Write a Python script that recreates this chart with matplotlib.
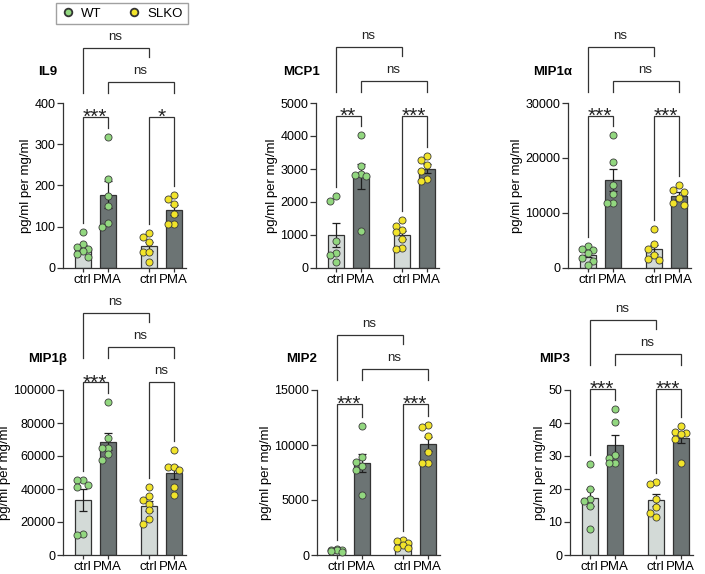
import numpy as np
import matplotlib.pyplot as plt
from matplotlib.lines import Line2D
from matplotlib.transforms import blended_transform_factory

plt.rcParams['font.family'] = ['Liberation Sans', 'DejaVu Sans']
plt.rcParams['font.size'] = 9.5

# panel setup
titles = ['IL9', 'MCP1', 'MIP1α', 'MIP1β', 'MIP2', 'MIP3']
y_max = [400, 5000, 30000, 100000, 15000, 50]
y_step = [100, 1000, 10000, 20000, 5000, 10]
tick_labels = ['ctrl', 'PMA', 'ctrl', 'PMA']
genotypes = ['WT', 'SLKO']

# values per panel: WT ctrl, WT PMA, SLKO ctrl, SLKO PMA (pg/ml per mg/ml)
il9 = [[88, 58, 50, 45, 40, 35, 26],
       [318, 215, 174, 150, 109, 99],
       [86, 75, 62, 39, 39, 15],
       [178, 168, 156, 131, 107, 107]]
mcp1 = [[2170, 2040, 820, 440, 390, 180],
        [4020, 3080, 2850, 2820, 2800, 1130],
        [1450, 1280, 1150, 1080, 880, 600, 570],
        [3400, 3270, 3120, 2950, 2700, 2630]]
mip1a = [[4000, 3400, 3200, 2700, 1800, 1300, 600],
         [24100, 19300, 15100, 13500, 11900, 11800],
         [7000, 4400, 3400, 2400, 1700, 1500],
         [15100, 14100, 13800, 12700, 11800, 11500]]
mip1b = [[45700, 45300, 42200, 41200, 13000, 12000],
         [92800, 70800, 65100, 64700, 61200, 57500],
         [41500, 36000, 33500, 31000, 27000, 22000, 18500],
         [63600, 53400, 53400, 51400, 41200, 36500]]
mip2 = [[550, 500, 480, 420, 350, 300],
        [11700, 8900, 8500, 8100, 7700, 5500],
        [1400, 1300, 1100, 900, 650, 600],
        [11800, 11600, 10800, 9400, 8400, 8400]]
mip3 = [[27.5, 20, 17, 16.5, 15, 8],
        [44.3, 40.2, 30.3, 29.5, 27.8, 27.8],
        [22.2, 21.5, 17, 14.5, 12.7, 11.6],
        [39, 37.2, 37, 36.8, 35.2, 28]]
values = [il9, mcp1, mip1a, mip1b, mip2, mip3]

# significance: WT ctrl vs PMA, SLKO ctrl vs PMA, ctrl WT vs SLKO, PMA WT vs SLKO
sig_wt = ['***', '**', '***', '***', '***', '***']
sig_slko = ['*', '***', '***', 'ns', '***', '***']
sig_ctrl = ['ns', 'ns', 'ns', 'ns', 'ns', 'ns']
sig_pma = ['ns', 'ns', 'ns', 'ns', 'ns', 'ns']

# style
GREEN = '#92d77f'
YELLOW = '#f2e42a'
CTRL_FILL = '#d3dad7'
PMA_FILL = '#6c7474'
LINE = '#333333'
DOT_EDGE = '#3c3c3c'

W, H = 705, 574
AX_W, AX_H = 123, 165
PX = 1.0 / AX_H
lefts = [63, 316, 568, 63, 317, 570]
bottoms = [268, 268, 268, 555, 555, 555]
xpos = [0, 1, 2.65, 3.65]
XLIM = (-0.78, 4.14)

fig = plt.figure(figsize=(W / 100, H / 100), dpi=100)


def swarm(vals, ymax):
    # small beeswarm in pixel space, kept inside the bar
    order = np.argsort(vals)[::-1]
    placed = []
    offs = np.zeros(len(vals))
    for i in order:
        yp = vals[i] / ymax * AX_H
        best, best_d = 0, -1
        for cand in [0, -5.5, 5.5]:
            d = min([np.hypot(cand - px, yp - py) for px, py in placed] or [99])
            if d >= 6.2:
                best = cand
                break
            if d > best_d:
                best, best_d = cand, d
        placed.append((best, yp))
        offs[i] = best
    return offs / (AX_W / (XLIM[1] - XLIM[0]))


def bracket(ax, x1, x2, y, y1, y2, label):
    tr = blended_transform_factory(ax.transData, ax.transAxes)
    ax.plot([x1, x1, x2, x2], [y1, y, y, y2], transform=tr, color=LINE,
            lw=0.9, clip_on=False, solid_joinstyle='miter')
    if label == 'ns':
        ax.annotate(label, xy=((x1 + x2) / 2, y), xycoords=tr, xytext=(0, 5.5),
                    textcoords='offset points', ha='center', va='baseline',
                    fontsize=9.5, color='#222222')
    else:
        ax.annotate(label, xy=((x1 + x2) / 2, y), xycoords=tr, xytext=(0, -4.5),
                    textcoords='offset points', ha='center', va='baseline',
                    fontsize=15, color='#222222')


for k in range(6):
    ax = fig.add_axes([lefts[k] / W, 1 - bottoms[k] / H, AX_W / W, AX_H / H])
    groups = values[k]
    ym = y_max[k]
    means = [np.mean(g) for g in groups]
    sems = [np.std(g, ddof=1) / np.sqrt(len(g)) for g in groups]
    fills = [CTRL_FILL, PMA_FILL, CTRL_FILL, PMA_FILL]
    dots = [GREEN, GREEN, YELLOW, YELLOW]

    ax.bar(xpos, means, width=0.64, color=fills, edgecolor=LINE, linewidth=0.9, zorder=2)
    ax.errorbar(xpos, means, yerr=sems, fmt='none', ecolor='#1e1e1e', elinewidth=0.9,
                capsize=3, capthick=0.9, zorder=3)
    for g, x, c in zip(groups, xpos, dots):
        g = np.array(g, dtype=float)
        ax.scatter(x + swarm(g, ym), g, s=26, color=c, edgecolor=DOT_EDGE,
                   linewidth=0.6, zorder=4, clip_on=False)

    ax.set_xlim(*XLIM)
    ax.set_ylim(0, ym)
    ax.set_yticks(np.arange(0, ym + y_step[k] / 2, y_step[k]))
    ax.set_xticks(xpos)
    ax.set_xticklabels(tick_labels)
    ax.tick_params(axis='y', length=4, width=0.9, color=LINE, labelsize=9, pad=1.5)
    ax.tick_params(axis='x', length=3, width=0.9, color=LINE, labelsize=9.5, pad=1.5)
    for s in ['top', 'right']:
        ax.spines[s].set_visible(False)
    for s in ['left', 'bottom']:
        ax.spines[s].set_linewidth(0.9)
        ax.spines[s].set_color(LINE)
    ax.set_ylabel('pg/ml per mg/ml', fontsize=9.5, labelpad=2)
    ax.text(-15 / AX_W, 1 + 31 * PX, titles[k], transform=ax.transAxes,
            ha='center', va='center', fontsize=9.5, fontweight='bold')

    # significance brackets
    tops = [max(g) / ym for g in groups]
    inner = max(0.915, max(tops) + 0.12)
    bracket(ax, xpos[0], xpos[1], inner, tops[0] + 9 * PX, tops[1] + 9 * PX, sig_wt[k])
    bracket(ax, xpos[2], xpos[3], inner, tops[2] + 9 * PX, tops[3] + 9 * PX, sig_slko[k])
    leg = inner + 24 * PX
    bracket(ax, xpos[1], xpos[3], inner + 35 * PX, leg, leg, sig_pma[k])
    bracket(ax, xpos[0], xpos[2], inner + 69 * PX, leg, inner + 60 * PX, sig_ctrl[k])

handles = [Line2D([], [], ls='none', marker='o', ms=5.5, mfc=c, mec='#333333', mew=1.3, label=lab)
           for c, lab in zip([GREEN, YELLOW], genotypes)]
fig.legend(handles=handles, loc='center', bbox_to_anchor=(122 / W, 1 - 13.5 / H), ncol=2,
           frameon=True, fancybox=False, edgecolor='#8a8a8a', fontsize=9.5,
           handletextpad=0.5, columnspacing=2.0, borderpad=0.35, handlelength=1.0)

fig.savefig('out.png', dpi=100)
